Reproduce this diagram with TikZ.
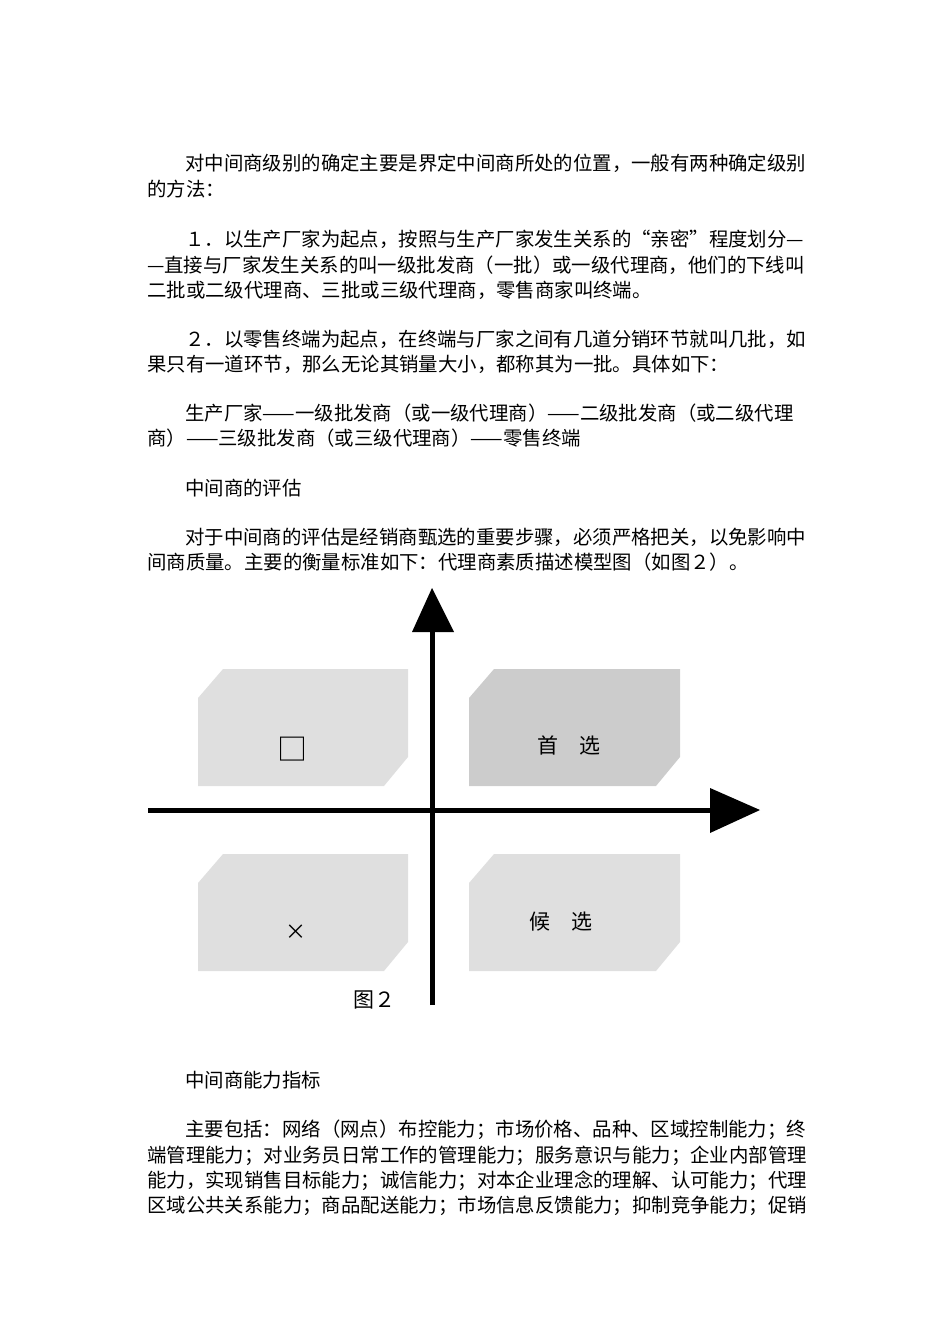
\documentclass[tikz,border=0pt]{standalone}
\usepackage{fontspec}
\newfontfamily\cjk{Noto Sans CJK SC}
\begin{document}
\begin{tikzpicture}[x=1pt,y=-1pt,
  txt/.style={anchor=west,inner sep=0pt,font=\cjk\fontsize{19.4}{19.4}\selectfont},
  lbl/.style={inner sep=0pt,font=\cjk\fontsize{21}{21}\selectfont},
  axis/.style={line width=5pt},
  light/.style={fill=gray!25!white,draw=none},
  dark/.style={fill=gray!40!white,draw=none}]
\useasboundingbox (0,0) rectangle (950,1344);
% text
\node[txt] (t1) at (185,163) {对中间商级别的确定主要是界定中间商所处的位置，一般有两种确定级别};
\node[txt] (t2) at (147,189) {的方法：};
\node[txt] (t3) at (185,239) {１．以生产厂家为起点，按照与生产厂家发生关系的“亲密”程度划分—};
\node[txt] (t4) at (147,265) {—直接与厂家发生关系的叫一级批发商（一批）或一级代理商，他们的下线叫};
\node[txt] (t5) at (147,290) {二批或二级代理商、三批或三级代理商，零售商家叫终端。};
\node[txt] (t6) at (185,339) {２．以零售终端为起点，在终端与厂家之间有几道分销环节就叫几批，如};
\node[txt] (t7) at (147,364) {果只有一道环节，那么无论其销量大小，都称其为一批。具体如下：};
\node[txt] (t8) at (185,413) {生产厂家——一级批发商（或一级代理商）——二级批发商（或二级代理};
\node[txt] (t9) at (147,438) {商）——三级批发商（或三级代理商）——零售终端};
\node[txt] (t10) at (185,488) {中间商的评估};
\node[txt] (t11) at (185,537) {对于中间商的评估是经销商甄选的重要步骤，必须严格把关，以免影响中};
\node[txt] (t12) at (147,562) {间商质量。主要的衡量标准如下：代理商素质描述模型图（如图２）。};
\node[txt] (t13) at (185,1080) {中间商能力指标};
\node[txt] (t14) at (185,1130) {主要包括：网络（网点）布控能力；市场价格、品种、区域控制能力；终};
\node[txt] (t15) at (147,1156) {端管理能力；对业务员日常工作的管理能力；服务意识与能力；企业内部管理};
\node[txt] (t16) at (147,1181) {能力，实现销售目标能力；诚信能力；对本企业理念的理解、认可能力；代理};
\node[txt] (t17) at (147,1206) {区域公共关系能力；商品配送能力；市场信息反馈能力；抑制竞争能力；促销};
% boxes
\fill[light] (198,698)--(223,669)--(408,669)--(408,757)--(384,786)--(198,786)--cycle;
\fill[dark]  (469,698)--(494,669)--(680,669)--(680,757)--(656,786)--(469,786)--cycle;
\fill[light] (198,883)--(223,854)--(408,854)--(408,942)--(384,971)--(198,971)--cycle;
\fill[light] (469,883)--(494,854)--(680,854)--(680,942)--(656,971)--(469,971)--cycle;
\node[lbl,font=\cjk\fontsize{30}{30}\selectfont] (sq) at (292,749) {□};
\node[lbl] (sx) at (569,745) {首\hspace{21pt}选};
\node[lbl] (hx) at (561,922) {候\hspace{21pt}选};
\node[lbl] (xx) at (296,932) {×};
\node[lbl] (fig) at (374,1000) {图２};
% axes
\coordinate (vb) at (432,1005);
\coordinate (vt) at (432,630);
\coordinate (hl) at (148,810);
\coordinate (hr) at (712,810);
\draw[axis] (vb) -- (vt);
\draw[axis] (hl) -- (hr);
\fill (412,632) -- (432,588) -- (454,632) -- cycle;
\fill (710,788) -- (760,810) -- (710,833) -- cycle;
\end{tikzpicture}
\end{document}
